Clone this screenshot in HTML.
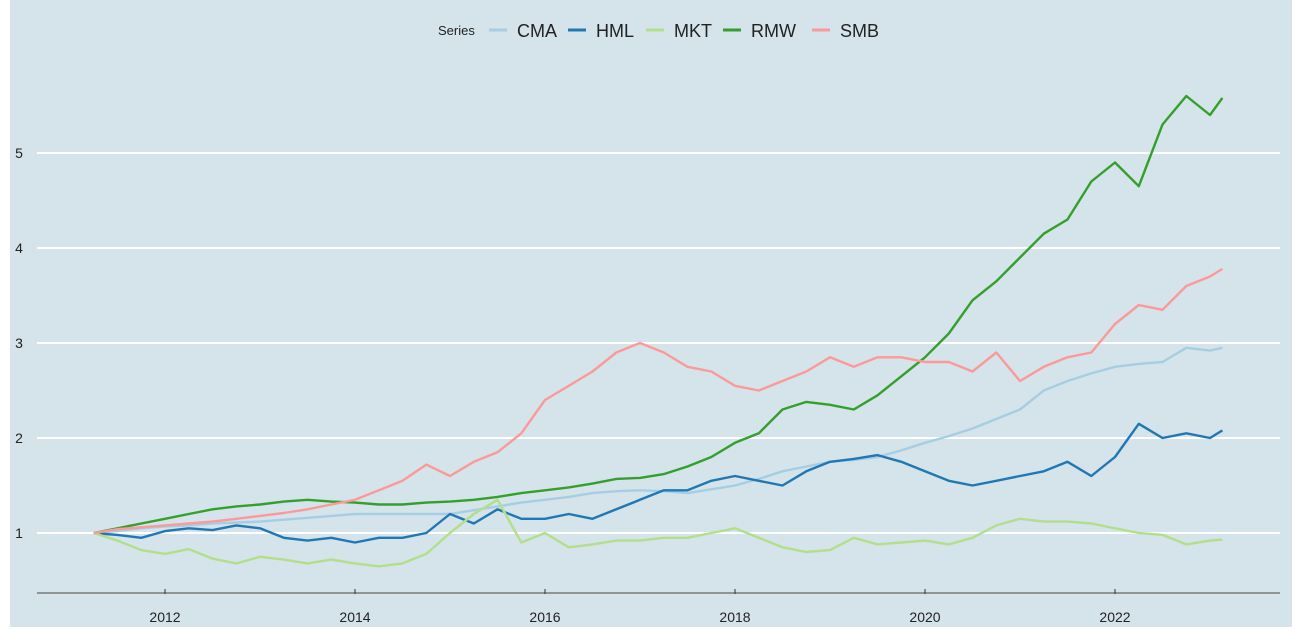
<!DOCTYPE html>
<html><head><meta charset="utf-8"><style>
html,body{margin:0;padding:0;background:#fff;}
svg{display:block;font-family:"Liberation Sans",sans-serif;}
</style></head><body>
<svg id="chart" width="1296" height="630">
<rect x="10" y="0" width="1282" height="627" fill="#d5e3ea"/>
<g id="grid"></g>
<g id="lines"></g>
<g id="axes"></g>
<g id="legend"></g>
</svg>
<script>
const years = [2011.25,2011.5,2011.75,2012,2012.25,2012.5,2012.75,2013,2013.25,2013.5,2013.75,2014,2014.25,2014.5,2014.75,2015,2015.25,2015.5,2015.75,2016,2016.25,2016.5,2016.75,2017,2017.25,2017.5,2017.75,2018,2018.25,2018.5,2018.75,2019,2019.25,2019.5,2019.75,2020,2020.25,2020.5,2020.75,2021,2021.25,2021.5,2021.75,2022,2022.25,2022.5,2022.75,2023,2023.13];
const cma = [1.0,1.02,1.05,1.07,1.08,1.1,1.11,1.12,1.14,1.16,1.18,1.2,1.2,1.2,1.2,1.2,1.24,1.28,1.32,1.35,1.38,1.42,1.44,1.45,1.44,1.42,1.46,1.5,1.57,1.65,1.7,1.75,1.77,1.8,1.87,1.95,2.02,2.1,2.2,2.3,2.5,2.6,2.68,2.75,2.78,2.8,2.95,2.92,2.95];
const hml = [1.0,0.98,0.95,1.02,1.05,1.03,1.08,1.05,0.95,0.92,0.95,0.9,0.95,0.95,1.0,1.2,1.1,1.25,1.15,1.15,1.2,1.15,1.25,1.35,1.45,1.45,1.55,1.6,1.55,1.5,1.65,1.75,1.78,1.82,1.75,1.65,1.55,1.5,1.55,1.6,1.65,1.75,1.6,1.8,2.15,2.0,2.05,2.0,2.08];
const mkt = [1.0,0.92,0.82,0.78,0.83,0.73,0.68,0.75,0.72,0.68,0.72,0.68,0.65,0.68,0.78,1.0,1.2,1.35,0.9,1.0,0.85,0.88,0.92,0.92,0.95,0.95,1.0,1.05,0.95,0.85,0.8,0.82,0.95,0.88,0.9,0.92,0.88,0.95,1.08,1.15,1.12,1.12,1.1,1.05,1.0,0.98,0.88,0.92,0.93];
const rmw = [1.0,1.05,1.1,1.15,1.2,1.25,1.28,1.3,1.33,1.35,1.33,1.32,1.3,1.3,1.32,1.33,1.35,1.38,1.42,1.45,1.48,1.52,1.57,1.58,1.62,1.7,1.8,1.95,2.05,2.3,2.38,2.35,2.3,2.45,2.65,2.85,3.1,3.45,3.65,3.9,4.15,4.3,4.7,4.9,4.65,5.3,5.6,5.4,5.58];
const smb = [1.0,1.04,1.06,1.08,1.1,1.12,1.15,1.18,1.21,1.25,1.3,1.35,1.45,1.55,1.72,1.6,1.75,1.85,2.05,2.4,2.55,2.7,2.9,3.0,2.9,2.75,2.7,2.55,2.5,2.6,2.7,2.85,2.75,2.85,2.85,2.8,2.8,2.7,2.9,2.6,2.75,2.85,2.9,3.2,3.4,3.35,3.6,3.7,3.78];
const seriesNames = ["CMA","HML","MKT","RMW","SMB"];
const yTicks = [1,2,3,4,5];
const xTicks = [2012,2014,2016,2018,2020,2022];

const colors = {CMA:"#a6cee3",HML:"#1f78b4",MKT:"#b2df8a",RMW:"#33a02c",SMB:"#fb9a99"};
const seriesData = {CMA:cma,HML:hml,MKT:mkt,RMW:rmw,SMB:smb};
const NS="http://www.w3.org/2000/svg";
const xS = y => 165 + 95*(y-2012);
const yS = v => 533 - 95*(v-1);
function mk(tag, attrs, parent){const e=document.createElementNS(NS,tag);for(const k in attrs)e.setAttribute(k,attrs[k]);parent.appendChild(e);return e;}
const grid=document.getElementById('grid'), lines=document.getElementById('lines'), axes=document.getElementById('axes'), legend=document.getElementById('legend');
yTicks.forEach(t=>{
  const l=mk('line',{x1:37,x2:1280,y1:yS(t),y2:yS(t),stroke:"#fff","stroke-width":2},grid);
  
  
  const tx=mk('text',{x:19,y:yS(t)+5,"text-anchor":"middle","font-size":14,fill:"#222"},axes);
  tx.textContent=t;
  
  
});
const ax=mk('line',{x1:37,x2:1280,y1:593,y2:593,stroke:"#666","stroke-width":1.2},axes);


xTicks.forEach(t=>{
  const tk=mk('line',{x1:xS(t),x2:xS(t),y1:589,y2:594,stroke:"#333","stroke-width":1},axes);
  
  
  const tx=mk('text',{x:xS(t),y:622,"text-anchor":"middle","font-size":14,fill:"#222"},axes);
  tx.textContent=t;
  
  
});
seriesNames.forEach(n=>{
  const d=seriesData[n].map((v,i)=>(i?'L':'M')+xS(years[i]).toFixed(1)+','+yS(v).toFixed(1)).join(' ');
  const p=mk('path',{d:d,fill:"none",stroke:colors[n],"stroke-width":2.4,"stroke-linejoin":"round"},lines);
  
  
});
const lt=mk('text',{x:438,y:35,"font-size":13,fill:"#222"},legend);
lt.textContent="Series";


const lx=[489,568,646,723,812];
seriesNames.forEach((n,i)=>{
  const sw=mk('line',{x1:lx[i],x2:lx[i]+18,y1:30,y2:30,stroke:colors[n],"stroke-width":3},legend);
  
  
  const tx=mk('text',{x:lx[i]+28,y:37,"font-size":18,fill:"#222"},legend);
  tx.textContent=n;
  
  
});
</script>
</body></html>
